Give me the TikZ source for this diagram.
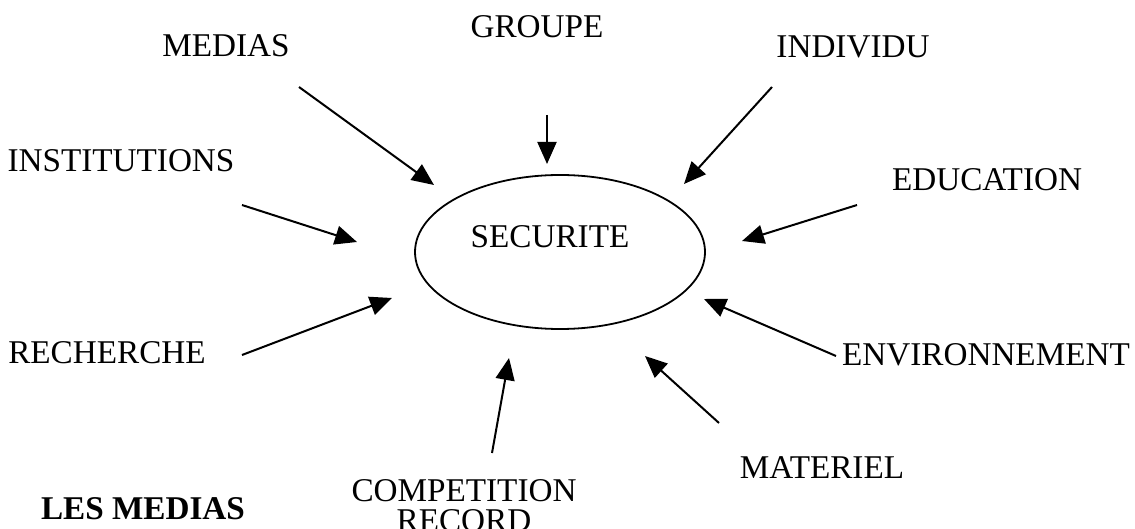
\documentclass[tikz,border=0pt]{standalone}
\usepackage{fontspec}
\setmainfont{Liberation Serif}
\usetikzlibrary{arrows.meta,shapes.geometric}

\begin{document}
\begin{tikzpicture}[x=0.5pt,y=-0.5pt,
  lbl/.style={anchor=base,inner sep=0pt,font=\fontsize{16.6}{15}\selectfont},
  arr/.style={line width=1pt,-{Triangle[length=11pt,width=9.5pt]}}]
\useasboundingbox (0,0) rectangle (1135,529);
% centre
\node[draw,line width=0.9pt,ellipse,minimum width=145pt,minimum height=77pt,inner sep=0pt] (sec) at (560,252) {};
\node[lbl] (sectxt) at (550,248) {SECURITE};
% labels
\node[lbl] (medias) at (226,57) {MEDIAS};
\node[lbl] (groupe) at (537,38) {GROUPE};
\node[lbl] (individu) at (853,58) {INDIVIDU};
\node[lbl] (instit) at (121,172) {INSTITUTIONS};
\node[lbl] (educ) at (987,191) {EDUCATION};
\node[lbl] (rech) at (107,364) {RECHERCHE};
\node[lbl] (envir) at (986,365) {ENVIRONNEMENT};
\node[lbl] (mater) at (822,478) {MATERIEL};
\node[lbl,align=center] (compet) at (464,531) {COMPETITION\\RECORD};
\node[lbl,font=\fontsize{16.6}{15}\selectfont\bfseries] (titre) at (143,519) {LES MEDIAS};
% arrow ends
\coordinate (m1) at (299,87);  \coordinate (m2) at (434,185);
\coordinate (g1) at (547,115); \coordinate (g2) at (547,164);
\coordinate (i1) at (772,87);  \coordinate (i2) at (684,184);
\coordinate (s1) at (242,205); \coordinate (s2) at (357,242);
\coordinate (e1) at (857,205); \coordinate (e2) at (742,241);
\coordinate (r1) at (242,355); \coordinate (r2) at (392,298);
\coordinate (v1) at (836,356); \coordinate (v2) at (704,299);
\coordinate (t1) at (719,423); \coordinate (t2) at (645,356);
\coordinate (c1) at (492,453); \coordinate (c2) at (509,358);
\draw[arr] (m1) -- (m2);
\draw[arr] (g1) -- (g2);
\draw[arr] (i1) -- (i2);
\draw[arr] (s1) -- (s2);
\draw[arr] (e1) -- (e2);
\draw[arr] (r1) -- (r2);
\draw[arr] (v1) -- (v2);
\draw[arr] (t1) -- (t2);
\draw[arr] (c1) -- (c2);
\end{tikzpicture}
\end{document}
